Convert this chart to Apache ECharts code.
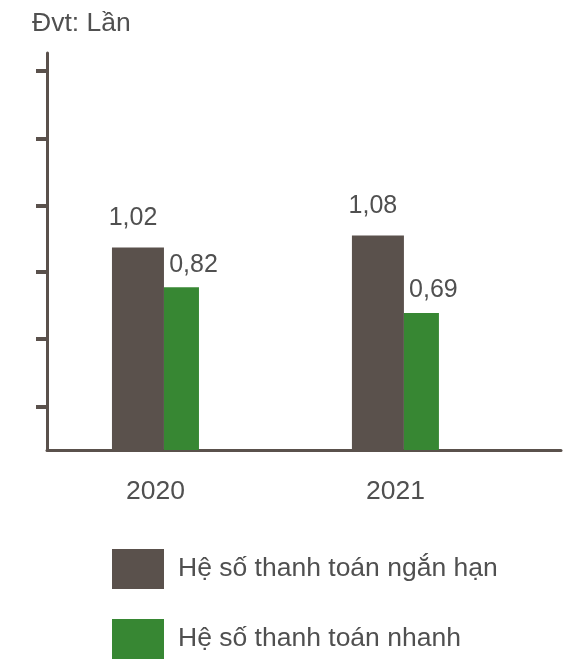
<!DOCTYPE html>
<html>
<head>
<meta charset="utf-8">
<script src="https://cdn.jsdelivr.net/npm/echarts@6/dist/echarts.min.js"></script>
<style>
  html, body { margin: 0; padding: 0; background: #fff; }
  #chart { width: 582px; height: 659px; }
</style>
</head>
<body>
<div id="chart"></div>
<script>
const categories = ["2020", "2021"];
const seriesNames = ["Hệ số thanh toán ngắn hạn", "Hệ số thanh toán nhanh"];
const currentRatio = [1.02, 1.08];
const quickRatio = [0.82, 0.69];
const yTickValues = [0.22, 0.56, 0.9, 1.23, 1.57, 1.91];

const FONT = "Liberation Sans, Arial, sans-serif";
const TEXT = "#505050";
const DARK = "#5a514c";
const GREEN = "#378733";

const fmt = (v) => v.toFixed(2).replace(".", ",");
const xIndex = categories.map((c, i) => i);

const myChart = echarts.init(document.getElementById("chart"));

// one legend per entry, stacked vertically
const legendTops = [549, 619];
const legends = seriesNames.map((name, i) => ({
  left: 112,
  top: legendTops[i],
  padding: 0,
  itemWidth: 52,
  itemHeight: 40,
  icon: "rect",
  data: [name],
  textStyle: { fontFamily: FONT, fontSize: 26.5, color: TEXT, padding: [0, 0, 0, 9] },
}));

const option = {
  animation: false,
  textStyle: { fontFamily: FONT },
  title: {
    text: "Đvt: Lần",
    left: 32,
    top: 10,
    padding: 0,
    textStyle: { fontFamily: FONT, fontSize: 26.5, fontWeight: "normal", color: TEXT },
  },
  legend: legends,
  grid: { left: 47, right: 21, top: 53, bottom: 209, containLabel: false },
  xAxis: {
    type: "value",
    min: -0.452,
    max: 1.69,
    axisLine: { show: true, onZero: false, lineStyle: { color: DARK, width: 3 } },
    axisTick: { show: false },
    splitLine: { show: false },
    axisLabel: {
      customValues: xIndex,
      formatter: (v) => categories[Math.round(v)],
      fontFamily: FONT,
      fontSize: 26.5,
      color: TEXT,
      margin: 28,
    },
  },
  yAxis: {
    type: "value",
    min: 0,
    max: 2,
    axisLine: { show: true, onZero: false, lineStyle: { color: DARK, width: 3 } },
    axisTick: {
      show: true,
      customValues: yTickValues,
      length: 11,
      lineStyle: { color: DARK, width: 4 },
    },
    axisLabel: { show: false },
    splitLine: { show: false },
  },
  series: [
    {
      name: seriesNames[0],
      type: "bar",
      data: currentRatio.map((v, i) => [xIndex[i], v]),
      barWidth: 52,
      barGap: "0%",
      itemStyle: { color: DARK },
      label: {
        show: true,
        position: "top",
        distance: 17,
        offset: [-5, 0],
        formatter: (p) => fmt(p.value[1]),
        fontFamily: FONT,
        fontSize: 25,
        color: TEXT,
      },
    },
    {
      name: seriesNames[1],
      type: "bar",
      data: quickRatio.map((v, i) => [xIndex[i], v]),
      barWidth: 35,
      barGap: "0%",
      itemStyle: { color: GREEN },
      label: {
        show: true,
        position: "top",
        distance: 10,
        offset: [12, 0],
        formatter: (p) => fmt(p.value[1]),
        fontFamily: FONT,
        fontSize: 25,
        color: TEXT,
      },
    },
  ],
};

myChart.setOption(option);
</script>
</body>
</html>
